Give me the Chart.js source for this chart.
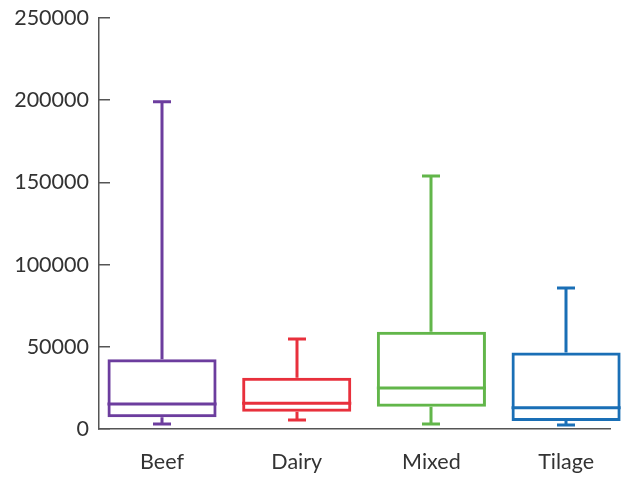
<!DOCTYPE html>
<html>
<head>
<meta charset="utf-8">
<script src="https://cdn.jsdelivr.net/npm/chart.js@4"></script>
<style>
html,body{margin:0;padding:0;background:#fff;}
#wrap{width:621px;height:477px;position:relative;}
</style>
</head>
<body>
<div id="wrap"><canvas id="c" width="621" height="477"></canvas></div>
<script>
const categories = ['Beef', 'Dairy', 'Mixed', 'Tilage'];
const minVals    = [3000, 5500, 3000, 2500];
const q1Vals     = [7100, 10500, 13600, 4900];
const medianVals = [15200, 15600, 24900, 13000];
const q3Vals     = [42400, 31200, 59200, 46600];
const maxVals    = [199000, 54700, 153900, 85800];
const yTickValues = [0, 50000, 100000, 150000, 200000, 250000];
const colors = ['#6c3d9e', '#e8303c', '#62b64a', '#1a6fb6'];

const boxPlugin = {
  id: 'boxWhiskers',
  afterDatasetsDraw(chart) {
    const ctx = chart.ctx;
    const y = chart.scales.y;
    const meta = chart.getDatasetMeta(0);
    ctx.save();
    meta.data.forEach((bar, i) => {
      const cx = Math.round(bar.x);
      const half = bar.width / 2;
      ctx.strokeStyle = colors[i];
      ctx.lineWidth = 3;
      ctx.lineCap = 'butt';
      const pMin = y.getPixelForValue(minVals[i]);
      const pQ1 = y.getPixelForValue(q1Vals[i]);
      const pMed = y.getPixelForValue(medianVals[i]);
      const pQ3 = y.getPixelForValue(q3Vals[i]);
      const pMax = y.getPixelForValue(maxVals[i]);
      ctx.beginPath();
      ctx.moveTo(cx, pQ3); ctx.lineTo(cx, pMax);
      ctx.moveTo(cx - 9, pMax); ctx.lineTo(cx + 9, pMax);
      ctx.moveTo(cx, pQ1); ctx.lineTo(cx, pMin);
      ctx.moveTo(cx - 9, pMin); ctx.lineTo(cx + 9, pMin);
      ctx.moveTo(bar.x - half, pMed); ctx.lineTo(bar.x + half, pMed);
      ctx.stroke();
    });
    ctx.restore();
  }
};

new Chart(document.getElementById('c'), {
  type: 'bar',
  data: {
    datasets: [{
      data: categories.map((c, i) => ({ x: i, y: [q1Vals[i], q3Vals[i]] })),
      borderColor: colors,
      backgroundColor: 'rgba(0,0,0,0)',
      borderWidth: 3,
      borderSkipped: false,
      barPercentage: 0.81,
      categoryPercentage: 1,
      clip: false
    }]
  },
  options: {
    responsive: false,
    animation: false,
    events: [],
    layout: { padding: { left: 0, right: 11, top: 18, bottom: 2 } },
    plugins: { legend: { display: false }, tooltip: { enabled: false } },
    scales: {
      x: {
        type: 'linear',
        min: -0.468,
        max: 3.326,
        offset: false,
        grid: { display: false },
        border: { display: true, color: '#555', width: 1.5 },
        afterBuildTicks: (s) => { s.ticks = categories.map((c, i) => ({ value: i })); },
        afterFit: (s) => { s.height = 46; s.paddingLeft = 0; s.paddingRight = 0; },
        ticks: {
          autoSkip: false,
          maxRotation: 0,
          padding: 12,
          color: '#333',
          font: { family: 'Lato', size: 21.5 },
          callback: (v) => categories[v]
        }
      },
      y: {
        min: 0,
        max: 250000,
        grid: { drawOnChartArea: false, drawTicks: true, tickLength: -11, color: '#555', lineWidth: 1.5 },
        border: { display: true, color: '#555', width: 1.5 },
        afterBuildTicks: (s) => { s.ticks = yTickValues.map(v => ({ value: v })); },
        afterFit: (s) => { s.width = 99; s.paddingTop = 0; s.paddingBottom = 0; },
        ticks: {
          padding: 21,
          color: '#333',
          font: { family: 'Lato', size: 21.5 },
          callback: (v) => String(v)
        }
      }
    }
  },
  plugins: [boxPlugin]
});
</script>
</body>
</html>
